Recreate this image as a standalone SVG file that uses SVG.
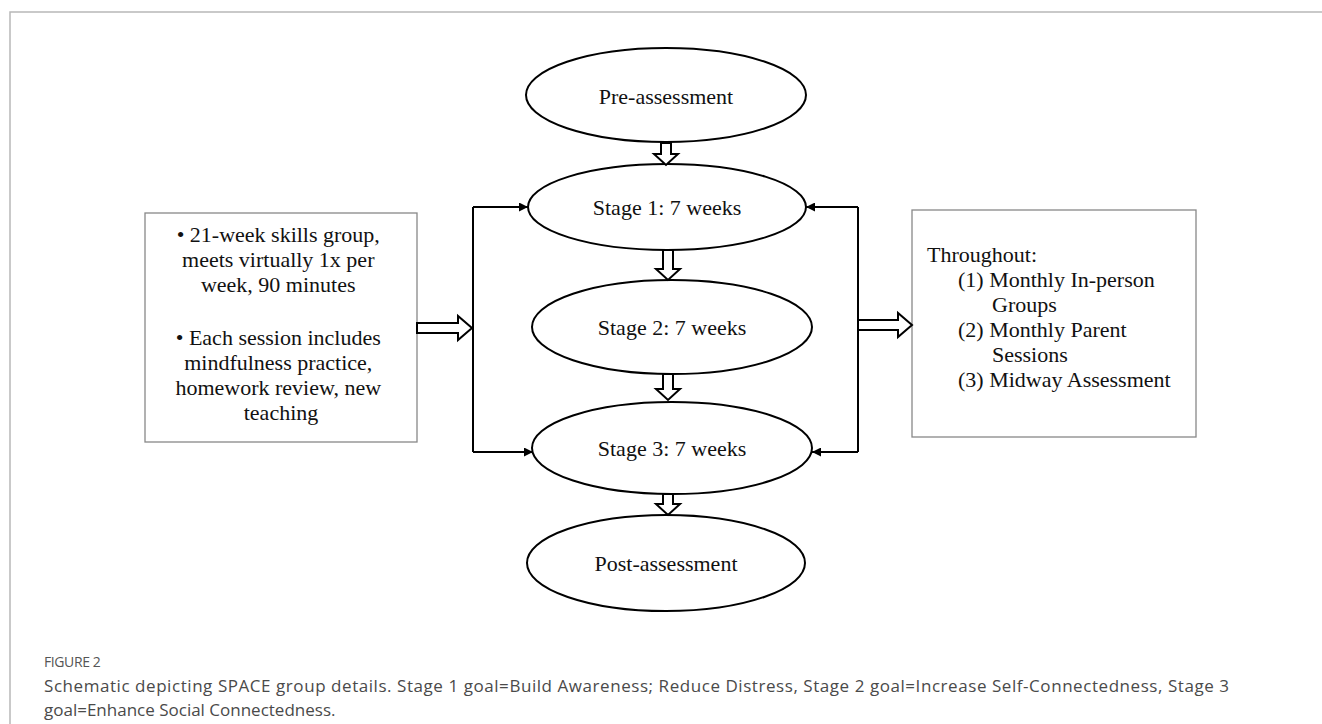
<svg xmlns="http://www.w3.org/2000/svg" width="1322" height="724" viewBox="0 0 1322 724">
<style>
.bg{fill:#fff}
.frame{stroke:#b8b8b8;stroke-width:1.5;fill:none}
.ell{fill:#fff;stroke:#000;stroke-width:2}
.box{fill:#fff;stroke:#888;stroke-width:1.3}
.t{font-family:"Liberation Serif","Times New Roman",serif;font-size:22px;fill:#111}
.mid{text-anchor:middle}
.blk{fill:#fff;stroke:#000;stroke-width:2;stroke-linejoin:miter}
.ln{fill:none;stroke:#000;stroke-width:2}
.figl{font-family:"Open Sans","Noto Sans",sans-serif;font-size:14px;fill:#555;letter-spacing:-0.4px}
.cap{font-family:"Open Sans","Noto Sans",sans-serif;font-size:17px;fill:#4a4a4a}
</style>
<defs>
<marker id="ah" viewBox="0 0 10 10" refX="10" refY="5" markerWidth="10" markerHeight="9" markerUnits="userSpaceOnUse" orient="auto">
<path d="M0,0 L10,5 L0,10 Z" fill="#000"/>
</marker>
</defs>
<rect class="bg" x="0" y="0" width="1322" height="724"/>
<path class="frame" d="M10,724 V12 H1322"/>

<g id="pre"><ellipse class="ell" cx="666" cy="95" rx="140" ry="47"/><text class="t mid" x="666" y="104">Pre-assessment</text></g>
<g id="stage1"><ellipse class="ell" cx="667" cy="207" rx="139" ry="43"/><text class="t mid" x="667" y="215">Stage 1: 7 weeks</text></g>
<g id="stage2"><ellipse class="ell" cx="672" cy="327" rx="140" ry="47"/><text class="t mid" x="672" y="335">Stage 2: 7 weeks</text></g>
<g id="stage3"><ellipse class="ell" cx="672" cy="448" rx="140" ry="46"/><text class="t mid" x="672" y="456">Stage 3: 7 weeks</text></g>
<g id="post"><ellipse class="ell" cx="666" cy="563" rx="139" ry="48"/><text class="t mid" x="666" y="571">Post-assessment</text></g>

<g id="leftbox"><rect class="box" x="145" y="213" width="272" height="229"/>
<text class="t mid" x="281">
<tspan x="281" y="242">• 21-week skills group,</tspan>
<tspan x="281" y="267">meets virtually 1x per</tspan>
<tspan x="281" y="292">week, 90 minutes</tspan>
<tspan x="281" y="345">• Each session includes</tspan>
<tspan x="281" y="370">mindfulness practice,</tspan>
<tspan x="281" y="395">homework review, new</tspan>
<tspan x="281" y="420">teaching</tspan>
</text></g>

<g id="rightbox"><rect class="box" x="912" y="210" width="284" height="227"/>
<text class="t">
<tspan x="927" y="262">Throughout:</tspan>
<tspan x="958" y="287">(1) Monthly In-person</tspan>
<tspan x="992" y="312">Groups</tspan>
<tspan x="958" y="337">(2) Monthly Parent</tspan>
<tspan x="992" y="362">Sessions</tspan>
<tspan x="958" y="387">(3) Midway Assessment</tspan>
</text></g>

<g id="connectors">
<path class="blk" d="M661,143 H671 V154 H678 L666,165 L654,154 H661 Z"/>
<path class="blk" d="M663,250 H673 V269 H680 L668,280 L656,269 H663 Z"/>
<path class="blk" d="M663,374 H673 V389 H680 L668,400 L656,389 H663 Z"/>
<path class="blk" d="M663,494 H673 V504 H680 L668,515 L656,504 H663 Z"/>
<path class="blk" d="M417,323 H458 V316 L472,328 L458,340 V333 H417 Z"/>
<path class="blk" d="M858,320 H898 V313 L912,325 L898,337 V330 H858 Z"/>
<path class="ln" d="M473,207 V452"/>
<path class="ln" d="M473,207 H528" marker-end="url(#ah)"/>
<path class="ln" d="M473,452 H533" marker-end="url(#ah)"/>
<path class="ln" d="M858,207 V452"/>
<path class="ln" d="M858,207 H806" marker-end="url(#ah)"/>
<path class="ln" d="M858,452 H812" marker-end="url(#ah)"/>
</g>

<g id="caption">
<text class="figl" x="44" y="667">FIGURE 2</text>
<text class="cap" x="44" y="692" textLength="1185" lengthAdjust="spacing">Schematic depicting SPACE group details. Stage 1 goal=Build Awareness; Reduce Distress, Stage 2 goal=Increase Self-Connectedness, Stage 3</text>
<text class="cap" x="44" y="716">goal=Enhance Social Connectedness.</text>
</g>
</svg>
